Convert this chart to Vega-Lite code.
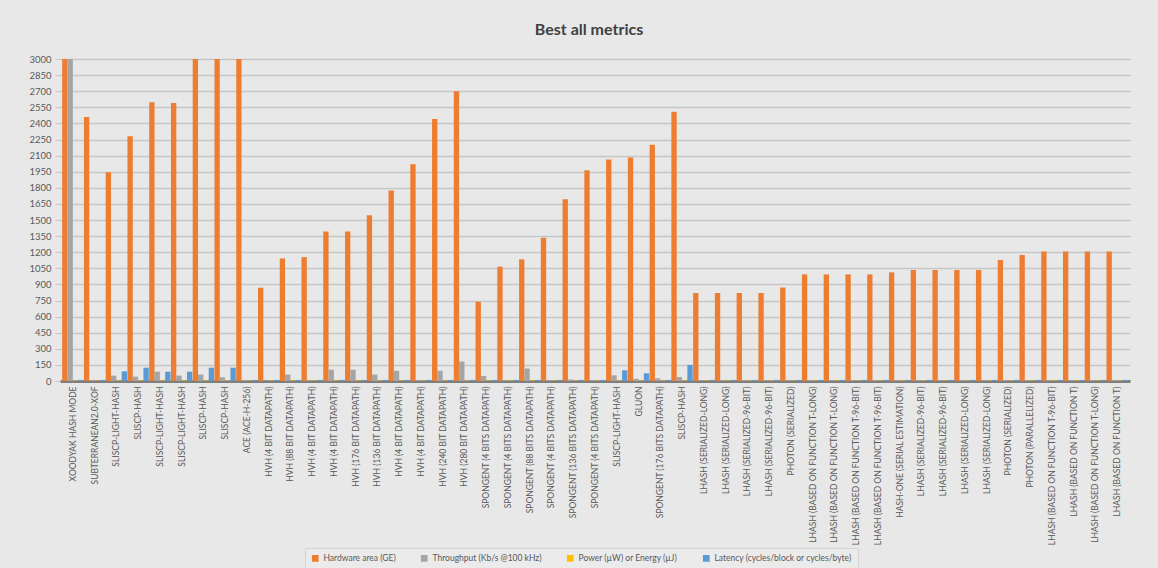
{
  "$schema": "https://vega.github.io/schema/vega-lite/v6.json",
  "width": 1070,
  "height": 322,
  "autosize": {"type": "none"},
  "padding": {"left": 60, "top": 59, "right": 28, "bottom": 187},
  "background": "#e8e8e8",
  "title": {"text": "Best all metrics", "fontSize": 16, "fontWeight": "bold", "color": "#404040", "font": "Lato", "offset": 16, "anchor": "middle", "dx": -6},
  "datasets": {
    "metrics": [
      {"key": "area", "label": "Hardware area (GE)", "order": 1},
      {"key": "throughput", "label": "Throughput (Kb/s @100 kHz)", "order": 2},
      {"key": "power", "label": "Power (µW) or Energy (µJ)", "order": 3},
      {"key": "latency", "label": "Latency (cycles/block or cycles/byte)", "order": 4}
    ],
    "rows": [
      {"id": 1, "name": "XOODYAK HASH MODE", "area": 3000, "throughput": 3000, "power": 5, "latency": 10},
      {"id": 2, "name": "SUBTERRANEAN2.0-XOF", "area": 2460, "throughput": 8, "power": 5, "latency": 10},
      {"id": 3, "name": "SLISCP-LIGHT-HASH", "area": 1945, "throughput": 50, "power": 5, "latency": 90},
      {"id": 4, "name": "SLISCP-HASH", "area": 2280, "throughput": 40, "power": 5, "latency": 124},
      {"id": 5, "name": "SLISCP-LIGHT-HASH\u200b", "area": 2597, "throughput": 87, "power": 5, "latency": 87},
      {"id": 6, "name": "SLISCP-LIGHT-HASH\u200b\u200b", "area": 2590, "throughput": 50, "power": 5, "latency": 87},
      {"id": 7, "name": "SLISCP-HASH\u200b", "area": 3000, "throughput": 60, "power": 5, "latency": 124},
      {"id": 8, "name": "SLISCP-HASH\u200b\u200b", "area": 3000, "throughput": 35, "power": 5, "latency": 124},
      {"id": 9, "name": "ACE (ACE-H-256)", "area": 3000, "throughput": 10, "power": 5, "latency": 10},
      {"id": 10, "name": "HVH (4 BIT DATAPATH)", "area": 869, "throughput": 5, "power": 5, "latency": 10},
      {"id": 11, "name": "HVH (88 BIT DATAPATH)", "area": 1142, "throughput": 60, "power": 5, "latency": 10},
      {"id": 12, "name": "HVH (4 BIT DATAPATH)\u200b", "area": 1154, "throughput": 8, "power": 5, "latency": 10},
      {"id": 13, "name": "HVH (4 BIT DATAPATH)\u200b\u200b", "area": 1393, "throughput": 105, "power": 5, "latency": 10},
      {"id": 14, "name": "HVH (176 BIT DATAPATH)", "area": 1393, "throughput": 105, "power": 5, "latency": 10},
      {"id": 15, "name": "HVH (136 BIT DATAPATH)", "area": 1545, "throughput": 60, "power": 5, "latency": 10},
      {"id": 16, "name": "HVH (4 BIT DATAPATH)\u200b\u200b\u200b", "area": 1776, "throughput": 95, "power": 5, "latency": 10},
      {"id": 17, "name": "HVH (4 BIT DATAPATH)\u200b\u200b\u200b\u200b", "area": 2020, "throughput": 8, "power": 5, "latency": 10},
      {"id": 18, "name": "HVH (240 BIT DATAPATH)", "area": 2440, "throughput": 95, "power": 5, "latency": 10},
      {"id": 19, "name": "HVH (280 BIT DATAPATH)", "area": 2700, "throughput": 182, "power": 5, "latency": 10},
      {"id": 20, "name": "SPONGENT (4 BITS DATAPATH)", "area": 739, "throughput": 47, "power": 5, "latency": 10},
      {"id": 21, "name": "SPONGENT (4 BITS DATAPATH)\u200b", "area": 1065, "throughput": 8, "power": 5, "latency": 10},
      {"id": 22, "name": "SPONGENT (88 BITS DATAPATH)", "area": 1134, "throughput": 116, "power": 5, "latency": 10},
      {"id": 23, "name": "SPONGENT (4 BITS DATAPATH)\u200b\u200b", "area": 1334, "throughput": 8, "power": 5, "latency": 10},
      {"id": 24, "name": "SPONGENT (136 BITS DATAPATH)", "area": 1694, "throughput": 15, "power": 5, "latency": 10},
      {"id": 25, "name": "SPONGENT (4 BITS DATAPATH)\u200b\u200b\u200b", "area": 1964, "throughput": 8, "power": 5, "latency": 10},
      {"id": 26, "name": "SLISCP-LIGHT-HASH\u200b\u200b\u200b", "area": 2064, "throughput": 53, "power": 5, "latency": 100},
      {"id": 27, "name": "GLUON", "area": 2083, "throughput": 20, "power": 5, "latency": 72},
      {"id": 28, "name": "SPONGENT (176 BITS DATAPATH)", "area": 2202, "throughput": 25, "power": 5, "latency": 10},
      {"id": 29, "name": "SLISCP-HASH\u200b\u200b\u200b", "area": 2509, "throughput": 37, "power": 5, "latency": 150},
      {"id": 30, "name": "LHASH (SERIALIZED-LONG)", "area": 820, "throughput": 8, "power": 5, "latency": 10},
      {"id": 31, "name": "LHASH (SERIALIZED-LONG)\u200b", "area": 820, "throughput": 8, "power": 5, "latency": 10},
      {"id": 32, "name": "LHASH (SERIALIZED-96-BIT)", "area": 820, "throughput": 8, "power": 5, "latency": 10},
      {"id": 33, "name": "LHASH (SERIALIZED-96-BIT)\u200b", "area": 820, "throughput": 8, "power": 5, "latency": 10},
      {"id": 34, "name": "PHOTON (SERIALIZED)", "area": 871, "throughput": 8, "power": 5, "latency": 10},
      {"id": 35, "name": "LHASH (BASED ON FUNCTION T-LONG)", "area": 993, "throughput": 8, "power": 5, "latency": 10},
      {"id": 36, "name": "LHASH (BASED ON FUNCTION T-LONG)\u200b", "area": 993, "throughput": 8, "power": 5, "latency": 10},
      {"id": 37, "name": "LHASH (BASED ON FUNCTION T-96-BIT)", "area": 993, "throughput": 8, "power": 5, "latency": 10},
      {"id": 38, "name": "LHASH (BASED ON FUNCTION T-96-BIT)\u200b", "area": 993, "throughput": 8, "power": 5, "latency": 10},
      {"id": 39, "name": "HASH-ONE (SERIAL ESTIMATION)", "area": 1012, "throughput": 8, "power": 5, "latency": 10},
      {"id": 40, "name": "LHASH (SERIALIZED-96-BIT)\u200b\u200b", "area": 1034, "throughput": 8, "power": 5, "latency": 10},
      {"id": 41, "name": "LHASH (SERIALIZED-96-BIT)\u200b\u200b\u200b", "area": 1034, "throughput": 8, "power": 5, "latency": 10},
      {"id": 42, "name": "LHASH (SERIALIZED-LONG)\u200b\u200b", "area": 1034, "throughput": 8, "power": 5, "latency": 10},
      {"id": 43, "name": "LHASH (SERIALIZED-LONG)\u200b\u200b\u200b", "area": 1034, "throughput": 8, "power": 5, "latency": 10},
      {"id": 44, "name": "PHOTON (SERIALIZED)\u200b", "area": 1127, "throughput": 8, "power": 5, "latency": 10},
      {"id": 45, "name": "PHOTON (PARALLELIZED)", "area": 1174, "throughput": 8, "power": 5, "latency": 10},
      {"id": 46, "name": "LHASH (BASED ON FUNCTION T-96-BIT)\u200b\u200b", "area": 1206, "throughput": 8, "power": 5, "latency": 10},
      {"id": 47, "name": "LHASH (BASED ON FUNCTION T)", "area": 1206, "throughput": 8, "power": 5, "latency": 10},
      {"id": 48, "name": "LHASH (BASED ON FUNCTION T-LONG)\u200b\u200b", "area": 1206, "throughput": 8, "power": 5, "latency": 10},
      {"id": 49, "name": "LHASH (BASED ON FUNCTION T)\u200b", "area": 1206, "throughput": 8, "power": 5, "latency": 10}
    ]
  },
  "data": {"name": "rows"},
  "transform": [
    {"fold": ["area", "throughput", "power", "latency"], "as": ["key", "value"]},
    {"lookup": "key", "from": {"data": {"name": "metrics"}, "key": "key", "fields": ["label", "order"]}}
  ],
  "mark": {"type": "bar"},
  "encoding": {
    "x": {
      "field": "name", "type": "nominal", "sort": null,
      "scale": {"paddingInner": 0.02, "paddingOuter": 0.1},
      "axis": {"title": null, "labelAngle": 270, "labelFontSize": 8.5, "labelColor": "#595959", "labelFont": "Lato", "labelPadding": 5, "labelLimit": 220, "ticks": false, "domainColor": "#7f7f7f", "domainWidth": 3}
    },
    "xOffset": {"field": "label", "type": "nominal", "sort": {"field": "order"}},
    "y": {
      "field": "value", "type": "quantitative",
      "scale": {"domain": [0, 3000], "clamp": true},
      "axis": {"title": null, "format": "d", "values": [0,150,300,450,600,750,900,1050,1200,1350,1500,1650,1800,1950,2100,2250,2400,2550,2700,2850,3000], "labelFontSize": 9.5, "labelColor": "#595959", "labelFont": "Lato", "domain": false, "tickColor": "#c8c8c8", "tickSize": 5, "gridColor": "#c6c6c6", "gridWidth": 1.5, "labelPadding": 4}
    },
    "color": {
      "field": "label", "type": "nominal", "sort": {"field": "order"},
      "scale": {"range": ["#ED7D31", "#A5A5A5", "#FFC000", "#5B9BD5"]},
      "legend": {"title": null, "orient": "none", "legendX": 245, "legendY": 489, "direction": "horizontal", "symbolType": "square", "symbolSize": 45, "symbolStrokeWidth": 1, "labelFontSize": 8.5, "labelColor": "#595959", "labelFont": "Lato", "columnPadding": 24, "padding": 6, "strokeColor": "#d4d4d4", "fillColor": "#ebebeb"}
    }
  },
  "config": {"view": {"stroke": null}, "axis": {"grid": true}, "axisX": {"grid": false}}
}
